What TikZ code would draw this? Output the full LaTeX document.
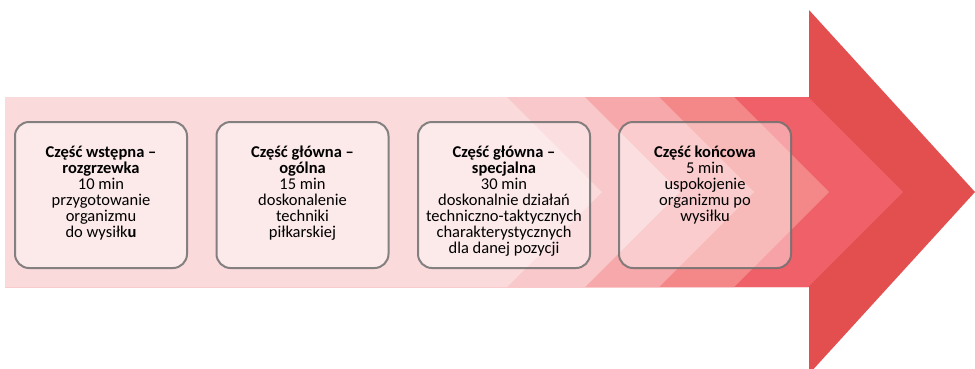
\documentclass[tikz,border=0pt]{standalone}
\usepackage{fontspec}
\setmainfont{Carlito}
\definecolor{arrowc}{HTML}{E34F4F}
\definecolor{lfive}{HTML}{F06068}
\definecolor{lfour}{HTML}{F48888}
\definecolor{lthree}{HTML}{F7A8AA}
\definecolor{ltwo}{HTML}{F9C8CA}
\definecolor{lone}{HTML}{FBDADC}
\definecolor{boxline}{HTML}{6F6F6F}
\begin{document}
\begin{tikzpicture}[x=1pt,y=-1pt,
  stagebox/.style={draw=boxline, draw opacity=0.85, line width=2pt, fill=white, fill opacity=0.42,
    rounded corners=14pt, minimum width=172pt, minimum height=146pt, inner sep=0pt},
  stagetext/.style={anchor=north, align=center, inner sep=0pt, text=black,
    font=\fontsize{16.5}{16}\selectfont}]
\useasboundingbox (0,0) rectangle (975,368);
% arrow body and layered chevrons
\fill[arrowc] (5,97) -- (809,97) -- (809,10) -- (975,192) -- (809,374) -- (809,287) -- (5,287) -- cycle;
\fill[lfive]  (5,97) -- (808,97) -- (903,192) -- (808,287) -- (5,287) -- cycle;
\fill[lfour]  (5,97) -- (734,97) -- (829,192) -- (734,287) -- (5,287) -- cycle;
\fill[lthree] (5,97) -- (659,97) -- (754,192) -- (659,287) -- (5,287) -- cycle;
\fill[ltwo]   (5,97) -- (585,97) -- (680,192) -- (585,287) -- (5,287) -- cycle;
\fill[lone]   (5,97) -- (507,97) -- (602,192) -- (507,287) -- (5,287) -- cycle;
% boxes
\node[stagebox] (b1) at (101,195) {};
\node[stagebox] (b2) at (302.5,195) {};
\node[stagebox] (b3) at (504,195) {};
\node[stagebox] (b4) at (705,195) {};
% texts
\node[stagetext] (t1) at ([yshift=-25pt]b1.north) {\textbf{Część wstępna –}\\\textbf{rozgrzewka}\\10 min\\przygotowanie\\organizmu\\do wysiłk\textbf{u}};
\node[stagetext] (t2) at ([yshift=-25pt]b2.north) {\textbf{Część główna –}\\\textbf{ogólna}\\15 min\\doskonalenie\\techniki\\piłkarskiej};
\node[stagetext] (t3) at ([yshift=-25pt]b3.north) {\textbf{Część główna –}\\\textbf{specjalna}\\30 min\\doskonalnie działań\\techniczno-taktycznych\\charakterystycznych\\dla danej pozycji};
\node[stagetext] (t4) at ([yshift=-25pt]b4.north) {\textbf{Część końcowa}\\5 min\\uspokojenie\\organizmu po\\wysiłku};
\end{tikzpicture}
\end{document}
